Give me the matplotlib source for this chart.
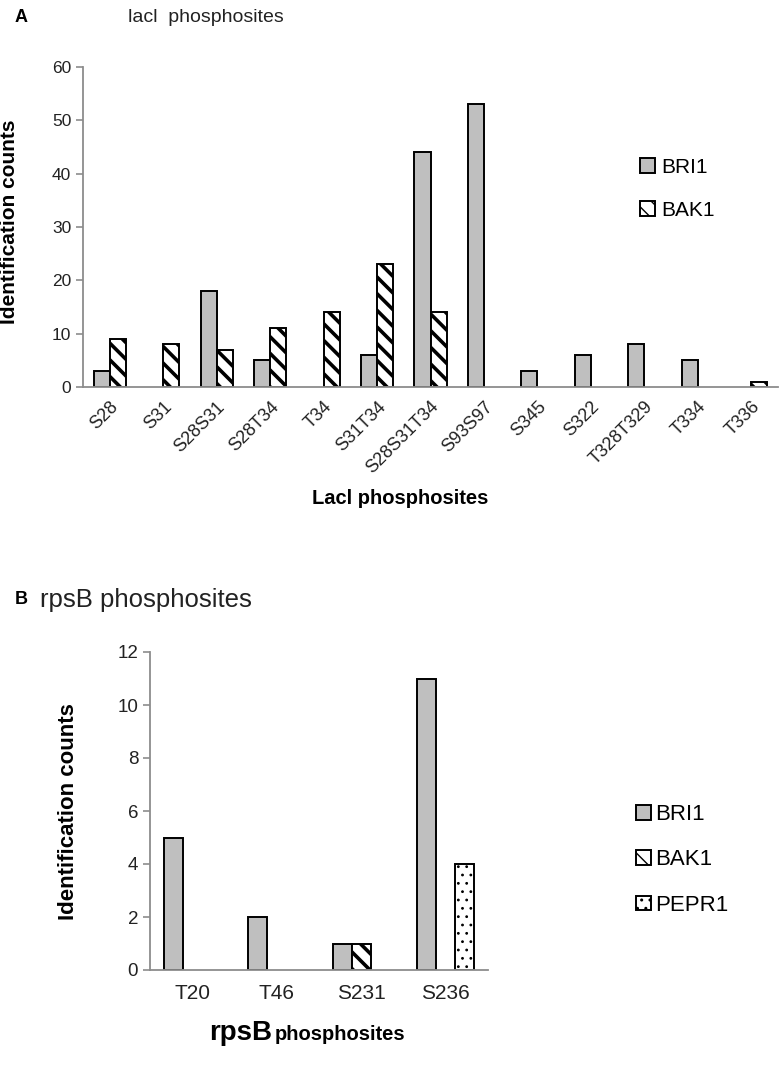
"""Phosphosite identification counts for lacI and rpsB (two panels)."""

import matplotlib
matplotlib.use("Agg")
import matplotlib.pyplot as plt
import numpy as np

plt.rcParams["font.family"] = ["Liberation Sans", "DejaVu Sans"]

# ---
# Data
# ---
laci_sites = ["S28", "S31", "S28S31", "S28T34", "T34", "S31T34", "S28S31T34",
              "S93S97", "S345", "S322", "T328T329", "T334", "T336"]
laci_bri1 = [3, 0, 18, 5, 0, 6, 44, 53, 3, 6, 8, 5, 0]
laci_bak1 = [9, 8, 7, 11, 14, 23, 14, 0, 0, 0, 0, 0, 1]

rpsb_sites = ["T20", "T46", "S231", "S236"]
rpsb_bri1 = [5, 2, 1, 11]
rpsb_bak1 = [0, 0, 1, 0]
rpsb_pepr1 = [0, 0, 0, 4]

gray = "#bfbfbf"
axis_gray = "#8c8c8c"
text_col = "#222222"

fig = plt.figure(figsize=(7.84, 10.65), dpi=100)


def style_axes(ax):
    for side in ("top", "right"):
        ax.spines[side].set_visible(False)
    for side in ("left", "bottom"):
        ax.spines[side].set_color(axis_gray)
        ax.spines[side].set_linewidth(1.3)
    ax.tick_params(axis="y", color=axis_gray, length=5, width=1.2)
    ax.tick_params(axis="x", length=0)


def bars(ax, x, vals, width, hatch, lw_hatch, label):
    # zero counts are left empty, as in the original figure
    vals = np.asarray(vals, dtype=float)
    vals = np.where(vals == 0, np.nan, vals)
    with plt.rc_context({"hatch.linewidth": lw_hatch, "hatch.color": "black"}):
        fill = gray if hatch is None else "white"
        return ax.bar(x, vals, width, color=fill, edgecolor="black",
                      linewidth=1.4, hatch=hatch, label=label)


# ---
# Panel A
# ---
axA = fig.add_axes([83 / 784, 1 - 387 / 1065, 695 / 784, 320 / 1065])
style_axes(axA)
xa = np.arange(len(laci_sites))
w = 0.3
bars(axA, xa - w / 2, laci_bri1, w, None, 1.0, "BRI1")
bars(axA, xa + w / 2, laci_bak1, w, "\\\\", 2.6, "BAK1")
axA.set_xlim(-0.5, len(laci_sites) - 0.5)
axA.set_ylim(0, 60)
axA.set_yticks(range(0, 61, 10))
axA.set_xticks(xa)
axA.set_xticklabels(laci_sites, rotation=45, ha="right", rotation_mode="anchor",
                    fontsize=13, color=text_col)
axA.tick_params(axis="y", labelsize=12.5, labelcolor=text_col)
axA.tick_params(axis="x", pad=8)
axA.legend(loc="upper left", bbox_to_anchor=(0.775, 0.775), frameon=False,
           fontsize=15, handlelength=0.7, handleheight=0.7,
           handletextpad=0.3, labelspacing=1.15)

fig.text(15 / 784, 1 - 17 / 1065, "A", fontsize=13, fontweight="bold",
         va="center", ha="left")
fig.text(128 / 784, 1 - 17 / 1065, "lacl  phosphosites", fontsize=14,
         va="center", ha="left", color=text_col)
fig.text(10 / 784, 1 - 222 / 1065, "Identification counts", fontsize=15,
         fontweight="bold", rotation=90, va="center", ha="center")
fig.text(400 / 784, 1 - 498 / 1065, "Lacl phosphosites", fontsize=14.5,
         fontweight="bold", va="center", ha="center")

# ---
# Panel B
# ---
axB = fig.add_axes([150 / 784, 1 - 970 / 1065, 338 / 784, 318 / 1065])
style_axes(axB)
xb = np.arange(len(rpsb_sites))
wb = 0.225
bars(axB, xb - wb, rpsb_bri1, wb, None, 1.0, "BRI1")
bars(axB, xb, rpsb_bak1, wb, "\\\\", 2.6, "BAK1")
bars(axB, xb + wb, rpsb_pepr1, wb, "..", 0.8, "PEPR1")
axB.set_xlim(-0.5, len(rpsb_sites) - 0.5)
axB.set_ylim(0, 12)
axB.set_yticks(range(0, 13, 2))
axB.set_xticks(xb)
axB.set_xticklabels(rpsb_sites, fontsize=15, color=text_col)
axB.tick_params(axis="y", labelsize=13.5, labelcolor=text_col)
axB.tick_params(axis="x", pad=10)
axB.legend(loc="upper left", bbox_to_anchor=(1.38, 0.585), frameon=False,
           fontsize=16, handlelength=0.65, handleheight=0.65,
           handletextpad=0.2, labelspacing=1.1)

fig.text(15 / 784, 1 - 600 / 1065, "B", fontsize=13, fontweight="bold",
         va="center", ha="left")
fig.text(40 / 784, 1 - 600 / 1065, "rpsB phosphosites", fontsize=18.5,
         va="center", ha="left", color=text_col)
fig.text(69 / 784, 1 - 812 / 1065, "Identification counts", fontsize=16,
         fontweight="bold", rotation=90, va="center", ha="center")
fig.text(272 / 784, 1 - 1040 / 1065, "rpsB", fontsize=20, fontweight="bold",
         va="baseline", ha="right")
fig.text(275 / 784, 1 - 1040 / 1065, "phosphosites", fontsize=14.5,
         fontweight="bold", va="baseline", ha="left")

fig.savefig("out.png", dpi=100)
